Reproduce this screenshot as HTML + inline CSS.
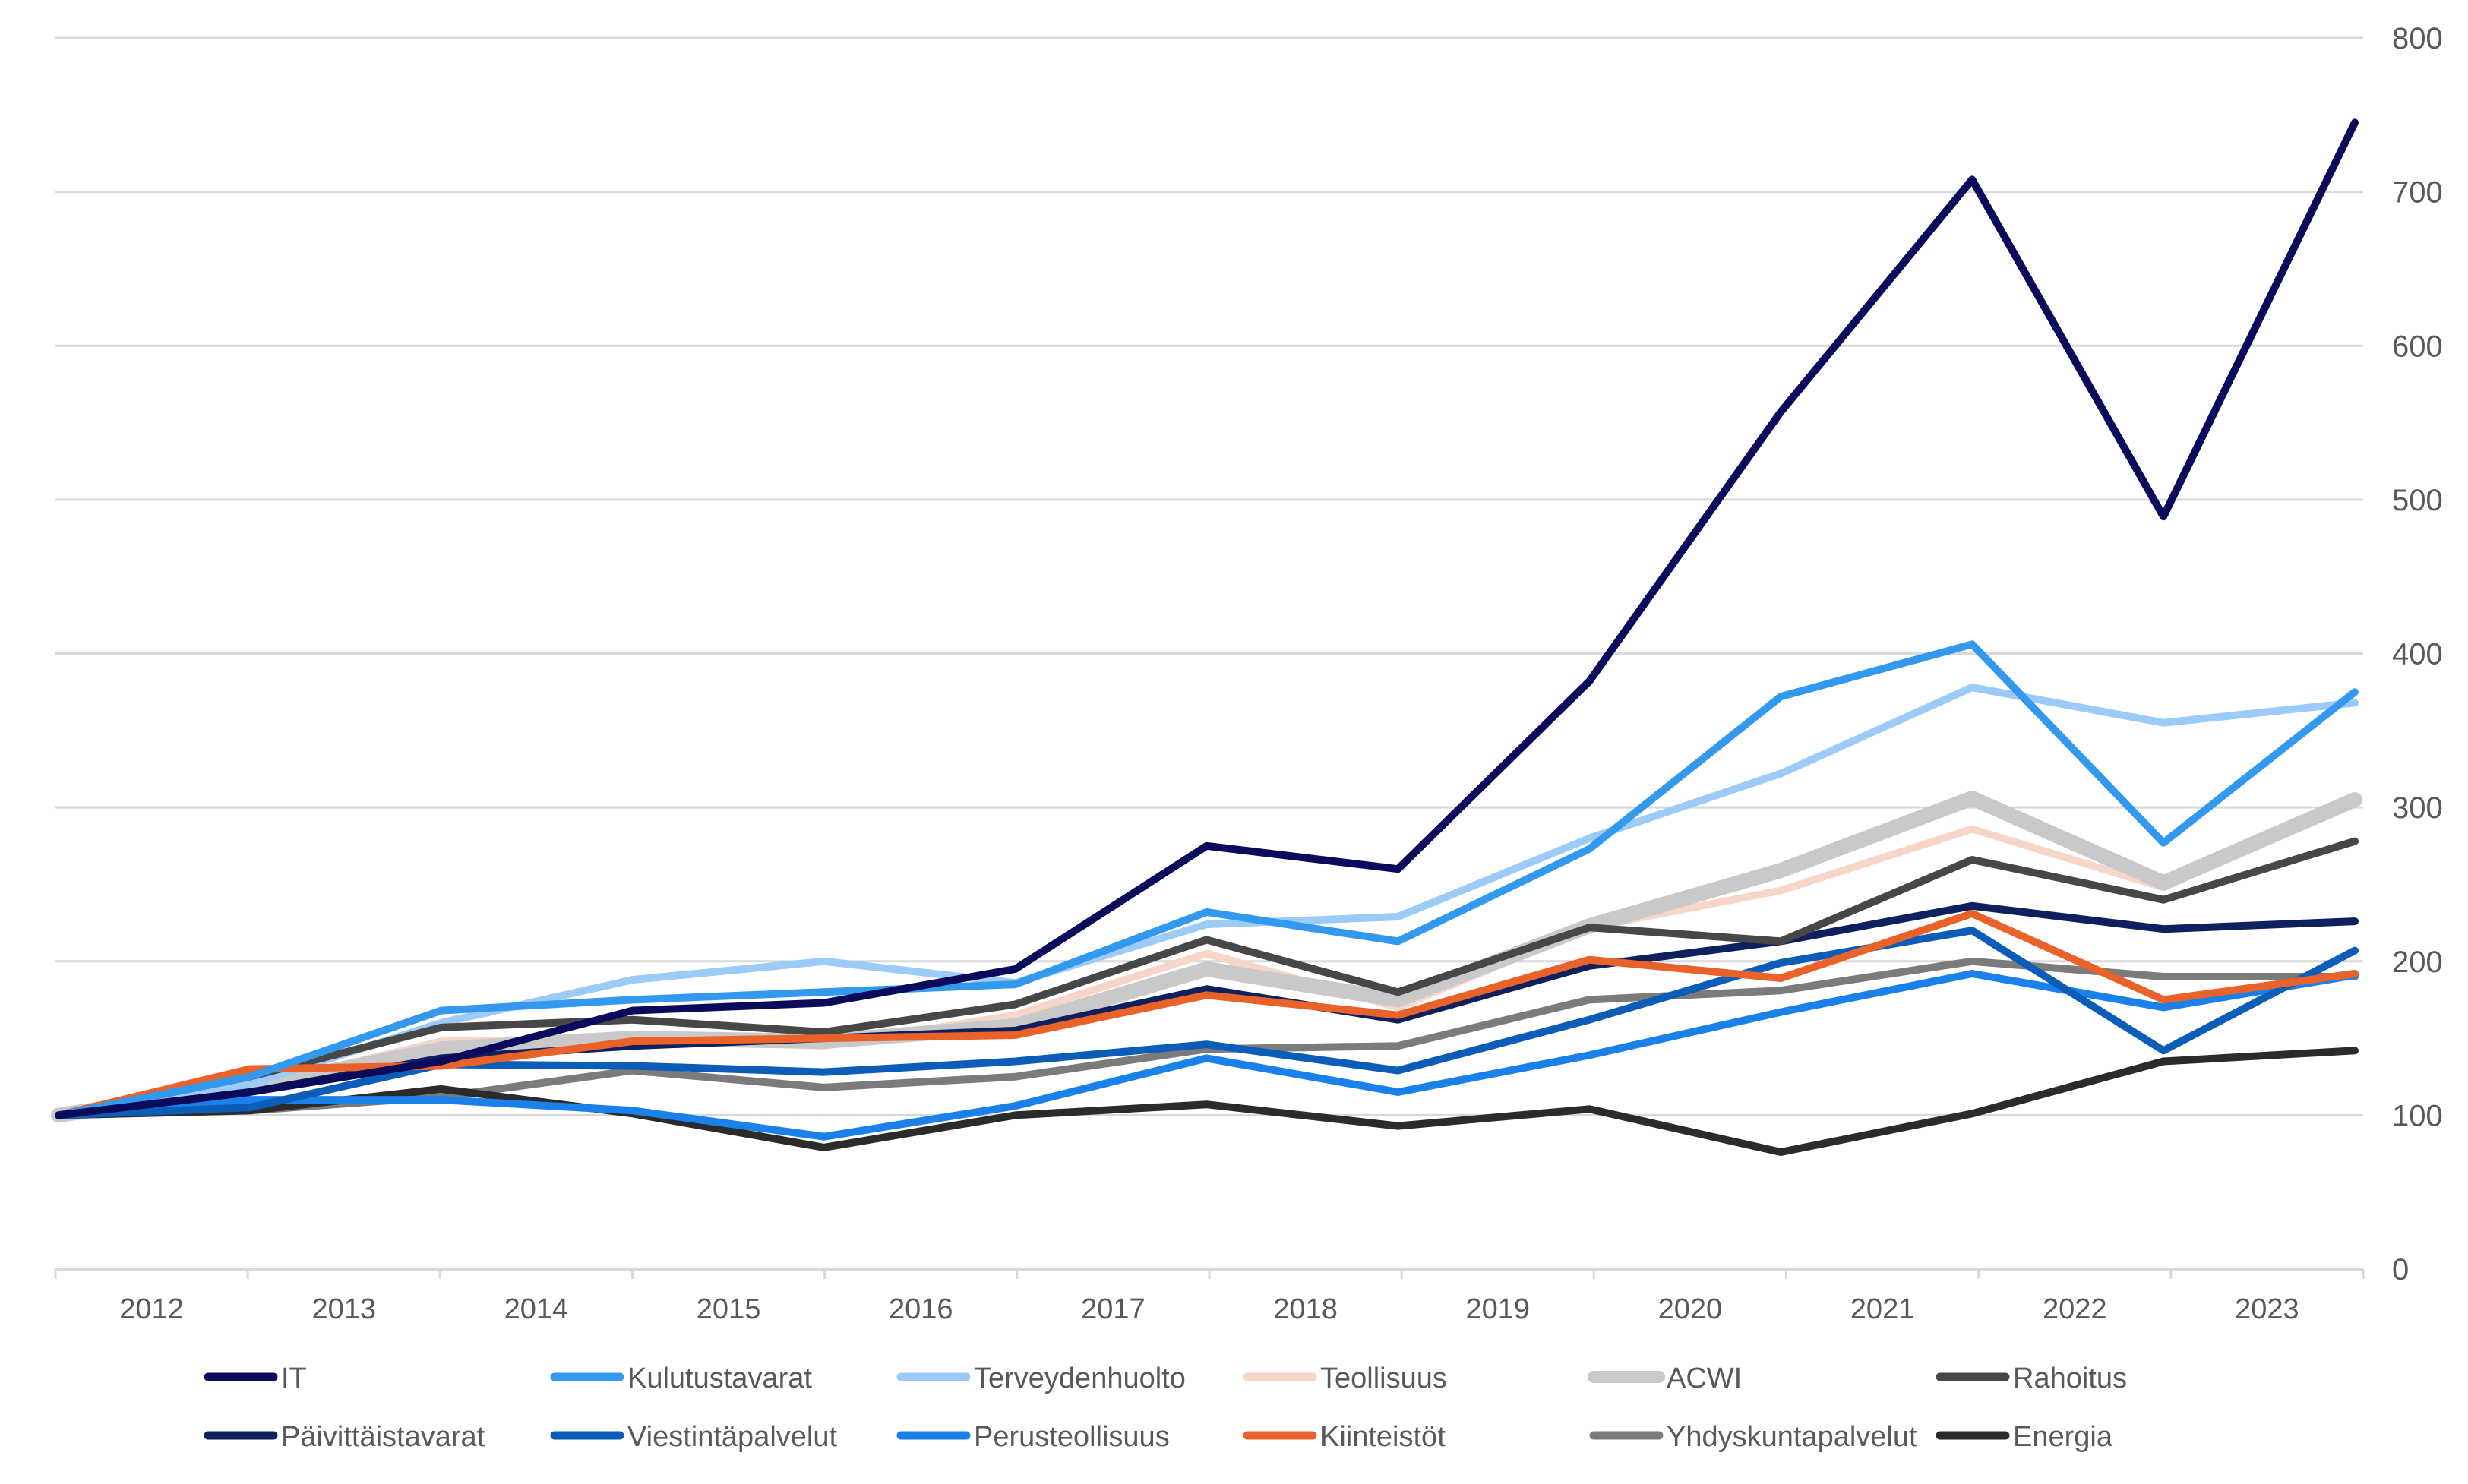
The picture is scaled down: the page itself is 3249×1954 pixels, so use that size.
<!DOCTYPE html>
<html><head><meta charset="utf-8"><style>
html,body{margin:0;padding:0;background:#fff;}
svg text{font-family:"Liberation Sans",sans-serif;fill:#595959;}
</style></head><body>
<svg id="chart" width="3249" height="1949" xmlns="http://www.w3.org/2000/svg">
<g id="grid"></g>
<g id="yax"></g>
<g id="xax"></g>
<g id="lines"></g>
<g id="legend"></g>
</svg>
<script>
const years = ["2012","2013","2014","2015","2016","2017","2018","2019","2020","2021","2022","2023"];
const yTicks = [0,100,200,300,400,500,600,700,800];
const seriesNames = ["IT","Kulutustavarat","Terveydenhuolto","Teollisuus","ACWI","Rahoitus","Päivittäistavarat","Viestintäpalvelut","Perusteollisuus","Kiinteistöt","Yhdyskuntapalvelut","Energia"];
const vIT = [100,115,135,168,173,195,275,260,382,557,708,489,745];
const vKulutus = [100,125,168,175,180,185,232,213,273,372,406,277,375];
const vTerveys = [100,120,160,188,200,186,224,229,280,322,378,355,368];
const vTeoll = [100,118,148,150,145,165,205,170,222,246,286,248,305];
const vACWI = [100,118,143,150,148,158,195,175,223,259,306,251,305];
const vRahoitus = [100,125,157,162,154,172,214,180,222,213,266,240,278];
const vPaivit = [100,115,137,145,150,155,182,162,197,213,236,221,226];
const vViestin = [100,105,133,132,128,135,146,129,162,199,220,142,207];
const vPerus = [100,110,110,103,86,106,137,115,139,167,192,170,191];
const vKiint = [100,130,132,148,150,152,178,165,201,189,231,175,192];
const vYhdysk = [100,103,112,129,118,125,143,145,175,181,200,190,190];
const vEnergia = [100,103,117,101,79,100,107,93,104,76,101,135,142];

const NS="http://www.w3.org/2000/svg";
const X0=73,X1=3111,Y0=1671,Y800=50;
const yS=v=>Y0-(v/800)*(Y0-Y800);
const band=(X1-X0)/years.length;
const xP=i=>77+i*(3100-77)/(vIT.length-1);
function mk(tag,attrs,parent){const e=document.createElementNS(NS,tag);for(const k in attrs)e.setAttribute(k,attrs[k]);parent.appendChild(e);return e;}
const grid=document.getElementById('grid'),yax=document.getElementById('yax'),xax=document.getElementById('xax'),lines=document.getElementById('lines'),legend=document.getElementById('legend');
yTicks.forEach(t=>{
  if(t>0){const g=mk('line',{x1:X0,x2:X1,y1:yS(t),y2:yS(t),stroke:'#d9d9d9','stroke-width':3},grid);
  
  }
  const tx=mk('text',{x:3149,y:yS(t)+14,'font-size':40},yax);tx.textContent=t;
  
  
});
const ax=mk('line',{x1:X0,x2:X1,y1:Y0,y2:Y0,stroke:'#d9d9d9','stroke-width':4},xax);


for(let k=0;k<=years.length;k++){const tk=mk('line',{x1:X0+k*band,x2:X0+k*band,y1:Y0,y2:Y0+13,stroke:'#d9d9d9','stroke-width':3},xax);
  
  }
years.forEach((y,k)=>{const tx=mk('text',{x:X0+(k+0.5)*band,y:1736,'font-size':38,'text-anchor':'middle'},xax);tx.textContent=y;
  
  });
const series=[
 ["IT",vIT,"#0b0b5c",10],["Kulutustavarat",vKulutus,"#3399ef",10],["Terveydenhuolto",vTerveys,"#9ccbf7",10],
 ["Teollisuus",vTeoll,"#f7d6ca",10],["ACWI",vACWI,"#c9c9c9",20],["Rahoitus",vRahoitus,"#474747",10],
 ["Päivittäistavarat",vPaivit,"#0e205e",10],["Viestintäpalvelut",vViestin,"#0b5db8",10],["Perusteollisuus",vPerus,"#1a80ea",10],
 ["Kiinteistöt",vKiint,"#e8622a",10],["Yhdyskuntapalvelut",vYhdysk,"#7b7b7b",10],["Energia",vEnergia,"#2b2b2b",10]];
const order=[3,4,2,10,11,8,7,6,5,9,1,0];
order.forEach(i=>{const s=series[i];
  const d=s[1].map((v,j)=>(j?'L':'M')+xP(j).toFixed(1)+' '+yS(v).toFixed(1)).join(' ');
  const p=mk('path',{d:d,fill:'none',stroke:s[2],'stroke-width':s[3],'stroke-linejoin':'round','stroke-linecap':'round'},lines);
  
  });
series.forEach((s,i)=>{const col=i%6,row=Math.floor(i/6);const lx=274+col*456,ly=row?1890:1813;
  const g=mk('g',{},legend);
  
  
  mk('line',{x1:lx,x2:lx+86,y1:ly,y2:ly,stroke:s[2],'stroke-width':s[3]===20?16:11,'stroke-linecap':'round'},g);
  const t=mk('text',{x:lx+96,y:ly+14,'font-size':38},g);t.textContent=s[0];});
</script>
</body></html>
